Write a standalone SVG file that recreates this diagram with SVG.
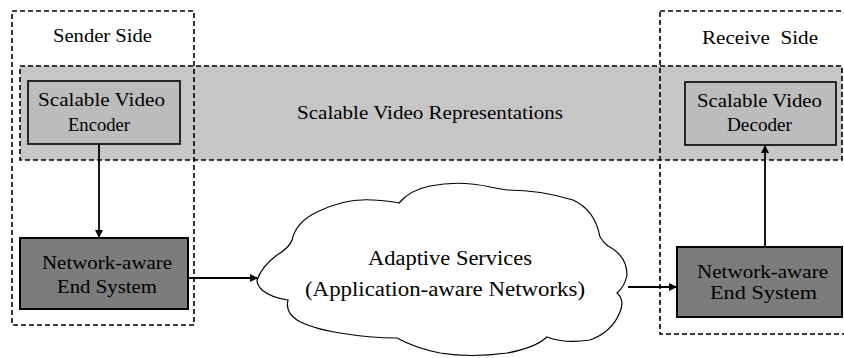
<svg xmlns="http://www.w3.org/2000/svg" width="844" height="358" viewBox="0 0 844 358">
<style>
.dash{fill:none;stroke:#000;stroke-width:1.6;stroke-dasharray:5,3}
.band{fill:#c6c6c6;stroke:#000;stroke-width:1.6;stroke-dasharray:5,3}
.light{fill:#bcbcbc;stroke:#000;stroke-width:1.6}
.dark{fill:#7c7c7c;stroke:#000;stroke-width:2}
text{font-family:'Liberation Serif','DejaVu Serif','Times New Roman',serif;fill:#000}
.t{font-size:18px}
.c{font-size:20px}
.conn{fill:none;stroke:#000;stroke-width:1.8}
.cloud{fill:#fff;stroke:#000;stroke-width:1.2}
</style>
<defs>
<marker id="ah" markerWidth="8" markerHeight="8" refX="7" refY="4" orient="auto" markerUnits="userSpaceOnUse">
<path d="M0,0 L8,4 L0,8 Z" fill="#000"/>
</marker>
</defs>
<rect x="0" y="0" width="844" height="358" fill="#fff"/>
<g id="band">
<rect class="band" x="20" y="66" width="822" height="94"/>
<text class="t" font-family="Liberation Serif, DejaVu Serif, serif" x="297" y="119" textLength="266" lengthAdjust="spacingAndGlyphs">Scalable Video Representations</text>
</g>
<g id="sender-side">
<rect class="dash" x="12" y="11" width="182" height="314"/>
<text class="t" font-family="Liberation Serif, DejaVu Serif, serif" x="53" y="42" textLength="99" lengthAdjust="spacingAndGlyphs">Sender Side</text>
</g>
<g id="receive-side">
<rect class="dash" x="660" y="11" width="200" height="323"/>
<text class="t" font-family="Liberation Serif, DejaVu Serif, serif" x="702" y="44" textLength="116" lengthAdjust="spacingAndGlyphs" xml:space="preserve">Receive  Side</text>
</g>
<g id="encoder">
<rect class="light" x="28" y="81" width="152" height="63"/>
<text class="t" font-family="Liberation Serif, DejaVu Serif, serif" x="38" y="106" textLength="127" lengthAdjust="spacingAndGlyphs">Scalable Video</text>
<text class="t" font-family="Liberation Serif, DejaVu Serif, serif" x="68" y="131" textLength="62" lengthAdjust="spacingAndGlyphs">Encoder</text>
</g>
<g id="decoder">
<rect class="light" x="685" y="82" width="151" height="63"/>
<text class="t" font-family="Liberation Serif, DejaVu Serif, serif" x="697" y="107" textLength="125" lengthAdjust="spacingAndGlyphs">Scalable Video</text>
<text class="t" font-family="Liberation Serif, DejaVu Serif, serif" x="727" y="131" textLength="65" lengthAdjust="spacingAndGlyphs">Decoder</text>
</g>
<g id="sender-end-system">
<rect class="dark" x="20" y="238" width="168" height="71"/>
<text class="t" font-family="Liberation Serif, DejaVu Serif, serif" x="42" y="269" textLength="130" lengthAdjust="spacingAndGlyphs">Network-aware</text>
<text class="t" font-family="Liberation Serif, DejaVu Serif, serif" x="57" y="293" textLength="100" lengthAdjust="spacingAndGlyphs">End System</text>
</g>
<g id="receiver-end-system">
<rect class="dark" x="677" y="247" width="165" height="70"/>
<text class="t" font-family="Liberation Serif, DejaVu Serif, serif" x="697" y="278" textLength="131" lengthAdjust="spacingAndGlyphs">Network-aware</text>
<text class="t" font-family="Liberation Serif, DejaVu Serif, serif" x="710" y="299" textLength="107" lengthAdjust="spacingAndGlyphs">End System</text>
</g>
<g id="cloud">
<path class="cloud" d="M257,280 Q262,266 277,255 Q290,247 292,240 Q296,222 317,212 Q345,198 373,200 Q390,201 399,203 Q410,190 430,186 Q460,180 490,187 Q500,189 507,190 Q540,190 573,200 Q595,210 600,237 Q604,243 608,246 Q627,256 627,275 Q625,286 617,293 Q625,300 620,312 Q612,332 590,340 Q565,344 547,337 Q535,348 507,353 Q470,358 440,353 Q415,348 397,338 Q370,338 340,333 Q310,328 297,320 Q285,312 288,300 Q272,298 262,290 Q257,285 257,280 Z"/>
<text class="c" font-family="Liberation Serif, DejaVu Serif, serif" x="368" y="265" textLength="164" lengthAdjust="spacingAndGlyphs">Adaptive Services</text>
<text class="c" font-family="Liberation Serif, DejaVu Serif, serif" x="305" y="296" textLength="280" lengthAdjust="spacingAndGlyphs">(Application-aware Networks)</text>
</g>
<g id="connectors">
<line class="conn" x1="99" y1="144" x2="99" y2="237" marker-end="url(#ah)"/>
<line class="conn" x1="188" y1="278" x2="257" y2="278" marker-end="url(#ah)"/>
<line class="conn" x1="628" y1="287" x2="676" y2="287" marker-end="url(#ah)"/>
<line class="conn" x1="765" y1="247" x2="765" y2="146" marker-end="url(#ah)"/>
</g>
</svg>
